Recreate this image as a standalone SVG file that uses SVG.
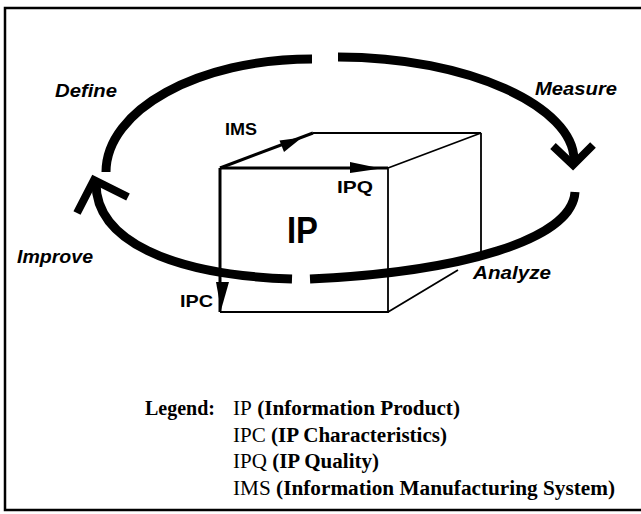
<svg xmlns="http://www.w3.org/2000/svg" width="641" height="514" viewBox="0 0 641 514">
<style>
.frame{fill:none;stroke:#000;stroke-width:2.5}
.cyc{fill:none;stroke:#000;stroke-width:9;stroke-linecap:butt}
.chev{fill:none;stroke:#000;stroke-width:8;stroke-linejoin:miter;stroke-linecap:butt}
.edge{fill:none;stroke:#000;stroke-width:1.8}
.thick{fill:none;stroke:#000;stroke-width:3}
.head{fill:#000;stroke:none}
.phase{font-family:"Liberation Sans",Arial,sans-serif;font-weight:bold;font-style:italic;font-size:19px;fill:#000}
.lab{font-family:"Liberation Sans",Arial,sans-serif;font-weight:bold;font-size:17px;fill:#000}
.big{font-family:"Liberation Sans",Arial,sans-serif;font-weight:bold;font-size:37px;fill:#000}
.leg{font-family:"Liberation Serif","Times New Roman",serif;font-weight:bold;font-size:20px;fill:#000}
.reg{font-weight:normal}
</style>
<rect width="641" height="514" fill="#fff"/>
<path class="frame" d="M641,8 H5 V510 H641"/>

<g id="cube">
<path class="edge" d="M220,312 H388 V168 M313,133 H481 L388,168 M481,133 V257 M388,312 L458,270"/>
</g>

<g id="connectors">
<path class="cyc" d="M106,172 C106,110 198,59 312,59"/>
<path class="cyc" d="M338,57 C469,57 574,107 574,160"/>
<path class="cyc" d="M575,192 C572,240 460,272 310,279"/>
<path class="cyc" d="M292,279 C170,275 95,240 96,182"/>
<polyline class="chev" points="553,146 573,165 593,145"/>
<polyline class="chev" points="77,213 94,180 128,197"/>
<g id="ims-arrow">
<path class="thick" d="M220,168 L313,133"/>
<polygon class="head" points="302,137.5 279.5,140.5 284,152"/>
</g>
<g id="ipq-arrow">
<path class="thick" d="M220,168 H388"/>
<polygon class="head" points="381,168.5 350,162 350,173"/>
</g>
<g id="ipc-arrow">
<path class="thick" d="M220,168 V312"/>
<polygon class="head" points="216,282 229,282 221,310"/>
</g>
</g>

<g id="labels">
<text class="phase" x="55" y="97" textLength="62" lengthAdjust="spacingAndGlyphs">Define</text>
<text class="phase" x="535" y="95" textLength="82" lengthAdjust="spacingAndGlyphs">Measure</text>
<text class="phase" x="17" y="263" textLength="76" lengthAdjust="spacingAndGlyphs">Improve</text>
<text class="phase" x="473" y="279" textLength="78" lengthAdjust="spacingAndGlyphs">Analyze</text>
<text class="lab" x="225" y="135" textLength="32" lengthAdjust="spacingAndGlyphs">IMS</text>
<text class="lab" x="337" y="193" textLength="36" lengthAdjust="spacingAndGlyphs">IPQ</text>
<text class="lab" x="180" y="307" textLength="33" lengthAdjust="spacingAndGlyphs">IPC</text>
<text class="big" x="287" y="243" textLength="31" lengthAdjust="spacingAndGlyphs">IP</text>
</g>

<g id="legend">
<text class="leg" x="145" y="415">Legend:</text>
<text class="leg" x="233" y="415" textLength="227" lengthAdjust="spacingAndGlyphs"><tspan class="reg">IP</tspan> (Information Product)</text>
<text class="leg" x="233" y="442" textLength="214" lengthAdjust="spacingAndGlyphs"><tspan class="reg">IPC</tspan> (IP Characteristics)</text>
<text class="leg" x="233" y="468" textLength="146" lengthAdjust="spacingAndGlyphs"><tspan class="reg">IPQ</tspan> (IP Quality)</text>
<text class="leg" x="233" y="495" textLength="382" lengthAdjust="spacingAndGlyphs"><tspan class="reg">IMS</tspan> (Information Manufacturing System)</text>
</g>
</svg>
